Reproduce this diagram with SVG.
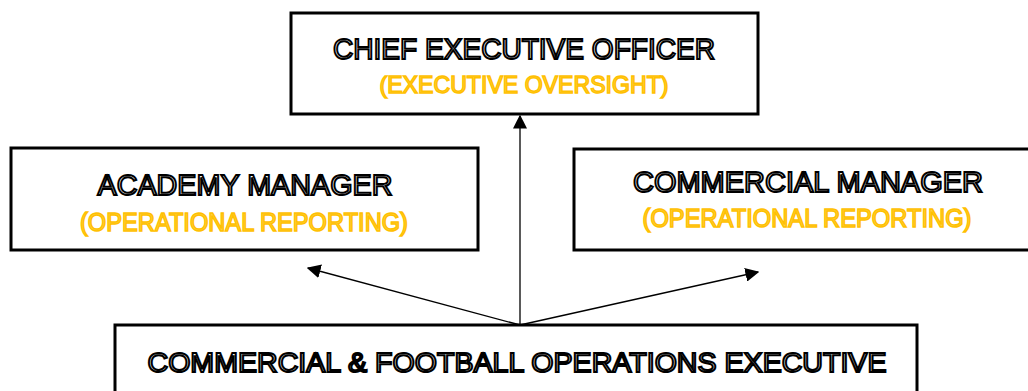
<svg xmlns="http://www.w3.org/2000/svg" width="1028" height="391" viewBox="0 0 1028 391">
<style>
.box{fill:#fff;stroke:#000;stroke-width:3}
.t{font-family:"Liberation Sans",Arial,sans-serif;fill:#fff;stroke:#000;stroke-width:2;text-anchor:middle}
.y{font-family:"Liberation Sans",Arial,sans-serif;fill:#FFD040;stroke:#FFC000;stroke-width:1.5;text-anchor:middle}
.c{stroke:#000;stroke-width:1.3;fill:none}
</style>
<defs>
<marker id="ah" viewBox="0 0 10 10" refX="9" refY="5" markerWidth="14" markerHeight="14" markerUnits="userSpaceOnUse" orient="auto">
<path d="M0,0 L10,5 L0,10 z" fill="#000"/>
</marker>
</defs>
<rect width="1028" height="391" fill="#fff"/>
<g id="connectors">
<line class="c" x1="520" y1="325" x2="520" y2="116" marker-end="url(#ah)"/>
<line class="c" x1="520" y1="325" x2="308" y2="268" marker-end="url(#ah)"/>
<line class="c" x1="520" y1="325" x2="758" y2="272" marker-end="url(#ah)"/>
</g>
<g id="ceo">
<rect class="box" x="291" y="13" width="467" height="101"/>
<text class="t" x="524" y="59" font-size="30" textLength="382" lengthAdjust="spacingAndGlyphs">CHIEF EXECUTIVE OFFICER</text>
<text class="y" x="524" y="93" font-size="24" textLength="289" lengthAdjust="spacingAndGlyphs">(EXECUTIVE OVERSIGHT)</text>
</g>
<g id="academy">
<rect class="box" x="11" y="148" width="467" height="102"/>
<text class="t" x="245" y="195" font-size="30" textLength="295" lengthAdjust="spacingAndGlyphs">ACADEMY MANAGER</text>
<text class="y" x="244" y="231" font-size="25" textLength="328" lengthAdjust="spacingAndGlyphs">(OPERATIONAL REPORTING)</text>
</g>
<g id="commercial">
<rect class="box" x="574" y="149" width="460" height="101"/>
<text class="t" x="808" y="192" font-size="30" textLength="350" lengthAdjust="spacingAndGlyphs">COMMERCIAL MANAGER</text>
<text class="y" x="807" y="227" font-size="25" textLength="329" lengthAdjust="spacingAndGlyphs">(OPERATIONAL REPORTING)</text>
</g>
<g id="executive">
<rect class="box" x="115" y="325" width="802" height="80"/>
<text class="t" x="517" y="372" font-size="28" textLength="739" lengthAdjust="spacingAndGlyphs">COMMERCIAL &amp; FOOTBALL OPERATIONS EXECUTIVE</text>
</g>
</svg>
